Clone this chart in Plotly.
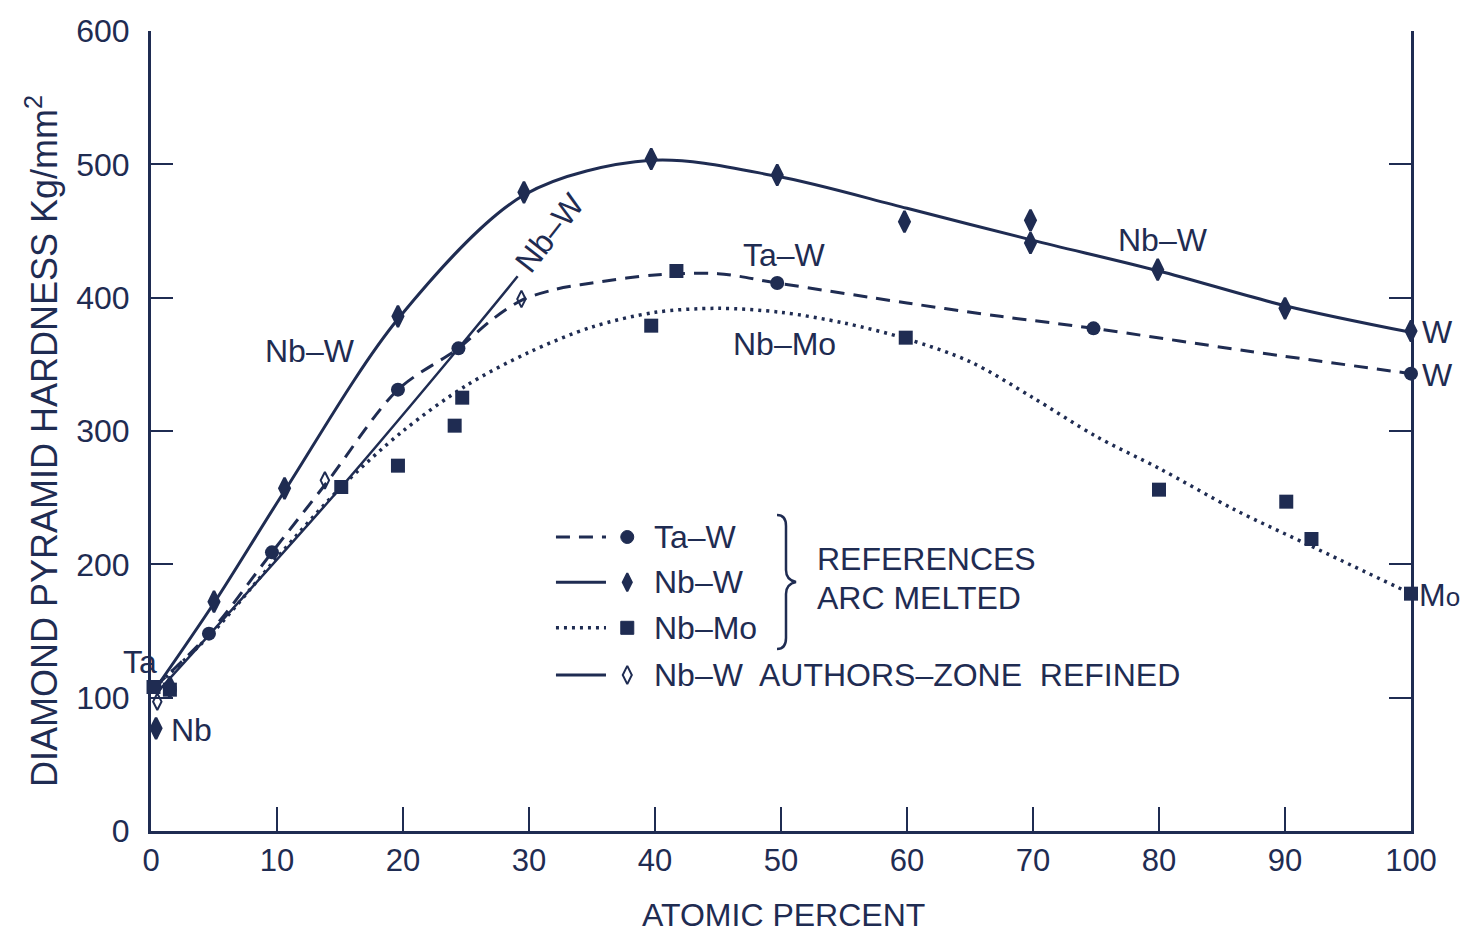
import plotly.graph_objects as go

INK = "#1f2c52"
FONT = "Liberation Sans, Arial, sans-serif"

# ---------------- data ----------------
# Nb-W (references, arc melted): fitted curve and measured points
nbw_curve_x = [0.3, 5, 10.6, 19.6, 29.6, 39.7, 49.7, 60, 70, 80, 90, 100]
nbw_curve_y = [106, 171, 255, 384, 477, 503, 491, 467, 443, 420, 394, 374]
nbw_pts_x = [0.4, 1.5, 5, 10.6, 19.6, 29.6, 39.7, 49.7, 59.8, 69.8, 69.8, 79.9, 90, 100]
nbw_pts_y = [77, 108, 172, 257, 386, 479, 504, 492, 457, 458, 441, 421, 392, 375]

# Ta-W (references): fitted curve and measured points
taw_curve_x = [0.3, 4.6, 9.6, 14, 19.6, 24.4, 27, 29.4, 32, 35, 40, 45, 49.7, 60, 67.4, 74.8, 87, 100]
taw_curve_y = [108, 148, 209, 262, 331, 362, 383, 398, 406, 411, 417, 418, 411, 396, 386, 377, 360, 343]
taw_pts_x = [0.3, 1.5, 4.6, 9.6, 19.6, 24.4, 49.7, 74.8, 100]
taw_pts_y = [108, 106, 148, 209, 331, 362, 411, 377, 343]

# Nb-Mo (references): fitted curve and measured points
nbmo_curve_x = [0.2, 5, 10, 15.1, 20, 25, 30, 35, 40, 45, 50, 55, 60, 65, 70, 75, 80, 86, 92, 100]
nbmo_curve_y = [107, 150, 205, 258, 300, 334, 359, 378, 389, 392, 389, 381, 369, 352, 325, 296, 272, 241, 214, 178]
nbmo_pts_x = [0.2, 1.5, 15.1, 19.6, 24.1, 24.7, 39.7, 41.7, 59.9, 80, 90.1, 92.1, 100]
nbmo_pts_y = [108, 106, 258, 274, 304, 325, 379, 420, 370, 256, 247, 219, 178]

# Nb-W (authors, zone refined)
auth_curve_x = [0.5, 15.1, 24.4, 29.1]
auth_curve_y = [104, 258, 362, 416]
auth_pts_x = [0.5, 13.8, 29.4]
auth_pts_y = [97, 263, 399]

x_ticks = [0, 10, 20, 30, 40, 50, 60, 70, 80, 90, 100]
y_ticks = [0, 100, 200, 300, 400, 500, 600]
X_RANGE = [0, 100]
Y_RANGE = [0, 600]

# ---------------- figure ----------------
fig = go.Figure()

def curve(x, y, dash, width=3):
    fig.add_trace(go.Scatter(x=x, y=y, mode="lines", showlegend=False, hoverinfo="skip",
                             cliponaxis=False,
                             line=dict(color=INK, width=width, dash=dash,
                                       shape="spline", smoothing=0.9)))

def points(x, y, symbol, size, lw=0):
    fig.add_trace(go.Scatter(x=x, y=y, mode="markers", showlegend=False, hoverinfo="skip",
                             cliponaxis=False,
                             marker=dict(symbol=symbol, size=size, color=INK,
                                         line=dict(color=INK, width=lw))))

curve(taw_curve_x, taw_curve_y, "14px,9px")
curve(nbmo_curve_x, nbmo_curve_y, "3px,5px", width=3.5)
curve(nbw_curve_x, nbw_curve_y, "solid")
curve(auth_curve_x, auth_curve_y, "solid", width=2.5)

points(taw_pts_x, taw_pts_y, "circle", 14)
points(nbmo_pts_x, nbmo_pts_y, "square", 14)
points(nbw_pts_x, nbw_pts_y, "diamond-tall", 15, lw=2.5)
points(auth_pts_x, auth_pts_y, "diamond-tall-open", 12, lw=2)

# ---------------- custom legend (on an overlay axis in 0..1 units) ----------------
legend_rows = [
    ("14px,9px", "circle", "Ta–W", 0.3675),
    ("solid", "diamond-tall", "Nb–W", 0.311),
    ("3px,5px", "square", "Nb–Mo", 0.254),
    ("solid", "diamond-tall-open", "Nb–W  AUTHORS–ZONE  REFINED", 0.195),
]
lx0, lx1, mx, tx = 0.3214, 0.3611, 0.378, 0.3976
for dash, sym, label, ly in legend_rows:
    fig.add_trace(go.Scatter(x=[lx0, lx1], y=[ly, ly], xaxis="x2", yaxis="y2", mode="lines",
                             showlegend=False, hoverinfo="skip",
                             line=dict(color=INK, width=3 if dash != "3px,5px" else 3.5, dash=dash)))
    fig.add_trace(go.Scatter(x=[mx], y=[ly], xaxis="x2", yaxis="y2", mode="markers",
                             showlegend=False, hoverinfo="skip",
                             marker=dict(symbol=sym, size=13,
                                         color=INK,
                                         line=dict(color=INK, width=2 if "diamond" in sym else 1))))
    fig.add_annotation(x=tx, y=ly, xref="x2", yref="y2", text=label, showarrow=False,
                       xanchor="left", yanchor="middle", font=dict(size=32, color=INK, family=FONT))

fig.add_annotation(x=0.527, y=0.34, xref="x2", yref="y2", text="REFERENCES", showarrow=False,
                   xanchor="left", yanchor="middle", font=dict(size=32, color=INK, family=FONT))
fig.add_annotation(x=0.527, y=0.291, xref="x2", yref="y2", text="ARC MELTED", showarrow=False,
                   xanchor="left", yanchor="middle", font=dict(size=32, color=INK, family=FONT))

# brace drawn as a path (pixel -> paper conversion for layout only)
def px(xp):
    return (xp - 151) / 1260
def py(yp):
    return (831 - yp) / 800
brace = (f"M {px(777)},{py(515)} Q {px(786)},{py(515)} {px(786)},{py(526)} "
         f"L {px(786)},{py(570)} Q {px(786)},{py(580)} {px(796)},{py(582)} "
         f"Q {px(786)},{py(584)} {px(786)},{py(594)} "
         f"L {px(786)},{py(638)} Q {px(786)},{py(649)} {px(777)},{py(649)}")
fig.add_shape(type="path", path=brace, xref="paper", yref="paper",
              line=dict(color=INK, width=2.5))

# ---------------- curve labels (placed in paper units so labels outside the range show) ----------------
def label(x, y, text, size=32, angle=0, xanchor="center"):
    fig.add_annotation(x=(x - X_RANGE[0]) / (X_RANGE[1] - X_RANGE[0]),
                       y=(y - Y_RANGE[0]) / (Y_RANGE[1] - Y_RANGE[0]),
                       xref="paper", yref="paper", text=text, showarrow=False, textangle=angle,
                       xanchor=xanchor, yanchor="middle",
                       font=dict(size=size, color=INK, family=FONT))

label(12.6, 360, "Nb–W")
label(50.3, 432, "Ta–W")
label(50.3, 365, "Nb–Mo")
label(80.3, 443, "Nb–W")
label(31.7, 449, "Nb–W", angle=-52)
label(-0.9, 127, "Ta")
label(3.2, 76, "Nb")
label(100.7, 374, "W", xanchor="left")
label(100.7, 342, "W", xanchor="left")
label(100.5, 177, "M<span style='font-size:26px'>o</span>", xanchor="left")

# axis titles
fig.add_annotation(x=px(42), y=py(441), xref="paper", yref="paper",
                   xanchor="center", yanchor="middle",
                   text="DIAMOND PYRAMID HARDNESS Kg/mm<sup>2</sup>", textangle=-90,
                   showarrow=False, font=dict(size=36, color=INK, family=FONT))
fig.add_annotation(x=px(783), y=py(915), xref="paper", yref="paper",
                   xanchor="center", yanchor="middle",
                   text="ATOMIC PERCENT", showarrow=False,
                   font=dict(size=32, color=INK, family=FONT))

fig.update_layout(
    width=1475, height=935,
    margin=dict(l=151, r=64, t=31, b=104),
    paper_bgcolor="white", plot_bgcolor="white",
    showlegend=False,
    font=dict(family=FONT, color=INK),
    xaxis=dict(range=X_RANGE, tickvals=x_ticks, ticks="inside", ticklen=24, tickwidth=2,
               tickcolor=INK, showline=True, linecolor=INK, linewidth=3, mirror=False,
               showgrid=False, zeroline=False, tickfont=dict(size=31, color=INK, family=FONT),
               ticklabelstandoff=0),
    yaxis=dict(range=Y_RANGE, tickvals=y_ticks, ticks="inside", ticklen=22, tickwidth=2,
               tickcolor=INK, showline=True, linecolor=INK, linewidth=3, mirror="ticks",
               showgrid=False, zeroline=False, tickfont=dict(size=32, color=INK, family=FONT),
               ticklabelstandoff=12),
    xaxis2=dict(overlaying="x", range=[0, 1], visible=False, fixedrange=True),
    yaxis2=dict(overlaying="y", range=[0, 1], visible=False, fixedrange=True),
)

fig.write_html("out.html")
